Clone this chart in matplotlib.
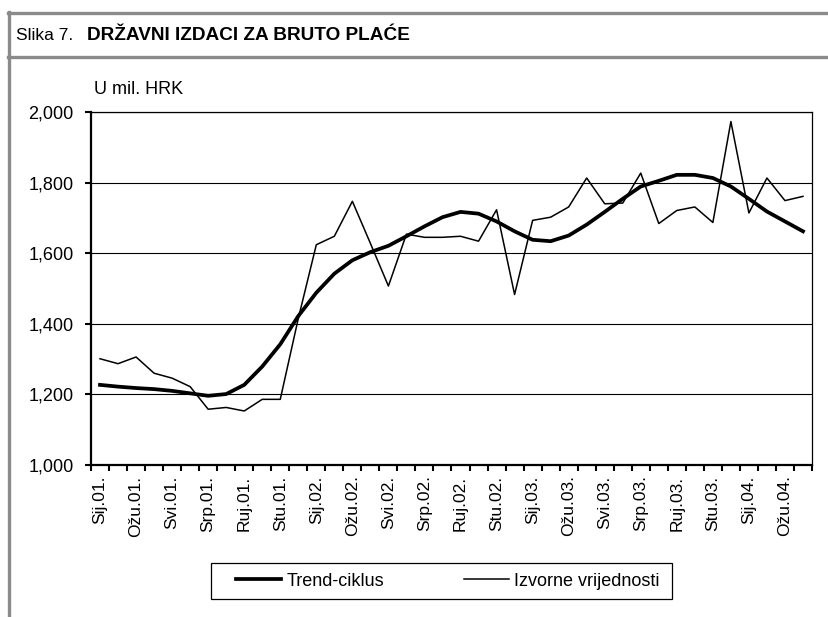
import numpy as np
import matplotlib
matplotlib.use('Agg')
import matplotlib.pyplot as plt
from matplotlib.lines import Line2D
from matplotlib.patches import Rectangle
from matplotlib.ticker import FuncFormatter, FixedLocator

plt.rcParams['font.family'] = ['Liberation Sans', 'DejaVu Sans']

# Mjesečni podaci, Sij.01 - Tra.04 (u mil. HRK)
mjeseci = ['Sij', 'Velj', 'Ožu', 'Tra', 'Svi', 'Lip', 'Srp', 'Kol', 'Ruj', 'Lis', 'Stu', 'Pro']
godine = ['01', '02', '03', '04']
kategorije = [f'{m}.{g}.' for g in godine for m in mjeseci][:40]

izvorne = [1301, 1287, 1306, 1260, 1246, 1222, 1158, 1163, 1153, 1186,
           1186, 1415, 1624, 1648, 1747, 1628, 1507, 1654, 1645, 1645,
           1648, 1634, 1723, 1483, 1693, 1702, 1731, 1813, 1740, 1742,
           1827, 1684, 1721, 1731, 1687, 1973, 1714, 1813, 1749, 1761]

trend = [1227, 1222, 1218, 1215, 1210, 1203, 1196, 1201, 1227, 1279,
         1342, 1422, 1488, 1542, 1580, 1603, 1621, 1648, 1676, 1702,
         1717, 1712, 1690, 1662, 1638, 1634, 1650, 1681, 1717, 1754,
         1789, 1805, 1822, 1822, 1813, 1789, 1754, 1718, 1690, 1662]

W, H = 829, 617
fig = plt.figure(figsize=(W / 100, H / 100), dpi=100)

# okvir slike (sivi)
siva = '#8a8a8a'
fig.add_artist(Line2D([8 / W, 1], [1 - 13 / H, 1 - 13 / H], color=siva, lw=2.4))
fig.add_artist(Line2D([8 / W, 1], [1 - 57 / H, 1 - 57 / H], color=siva, lw=2.4))
fig.add_artist(Line2D([9 / W, 9 / W], [0, 1 - 12 / H], color=siva, lw=2.4))

fig.text(16 / W, 1 - 35 / H, 'Slika 7.', fontsize=12.5, va='center', ha='left')
fig.text(87 / W, 1 - 35 / H, 'DRŽAVNI IZDACI ZA BRUTO PLAĆE', fontsize=13.7,
         fontweight='bold', va='center', ha='left')
fig.text(94 / W, 1 - 90 / H, 'U mil. HRK', fontsize=13, va='center', ha='left')

ax = fig.add_axes([91 / W, 1 - 465 / H, 721 / W, 353 / H])
x = np.arange(len(kategorije))
ax.plot(x, trend, color='black', lw=2.7, label='Trend-ciklus', solid_joinstyle='round')
ax.plot(x, izvorne, color='black', lw=1.1, label='Izvorne vrijednosti')

ax.set_xlim(-0.5, len(kategorije) - 0.5)
ax.set_ylim(1000, 2000)
ax.set_yticks(range(1000, 2001, 200))
ax.yaxis.set_major_formatter(FuncFormatter(lambda v, p: f'{v:,.0f}'))
ax.grid(axis='y', color='black', lw=0.8)
ax.set_axisbelow(True)

ax.set_xticks(x[::2])
ax.set_xticklabels(kategorije[::2], rotation=90, fontsize=12.5)
ax.xaxis.set_minor_locator(FixedLocator(np.arange(-0.5, len(kategorije), 1)))
ax.tick_params(axis='x', which='major', length=0, pad=7.5)
ax.tick_params(axis='x', which='minor', length=4.5, width=1.5, direction='out')
ax.tick_params(axis='y', length=4.5, width=1.5, direction='out', labelsize=13, pad=8)

for s in ['left', 'bottom']:
    ax.spines[s].set_linewidth(1.6)
for s in ['top', 'right']:
    ax.spines[s].set_linewidth(0.9)

# okvir legende
fig.add_artist(Rectangle((211 / W, 1 - 599 / H), 461 / W, 36 / H, fill=False,
                         edgecolor='black', lw=0.9, transform=fig.transFigure))
leg = fig.legend(loc='center', bbox_to_anchor=(448 / W, 1 - 581 / H), ncol=2,
                 fontsize=13, frameon=False, handlelength=2.5, columnspacing=4.4,
                 borderpad=0, handletextpad=0.3, borderaxespad=0)

fig.savefig('out.png', dpi=100)
